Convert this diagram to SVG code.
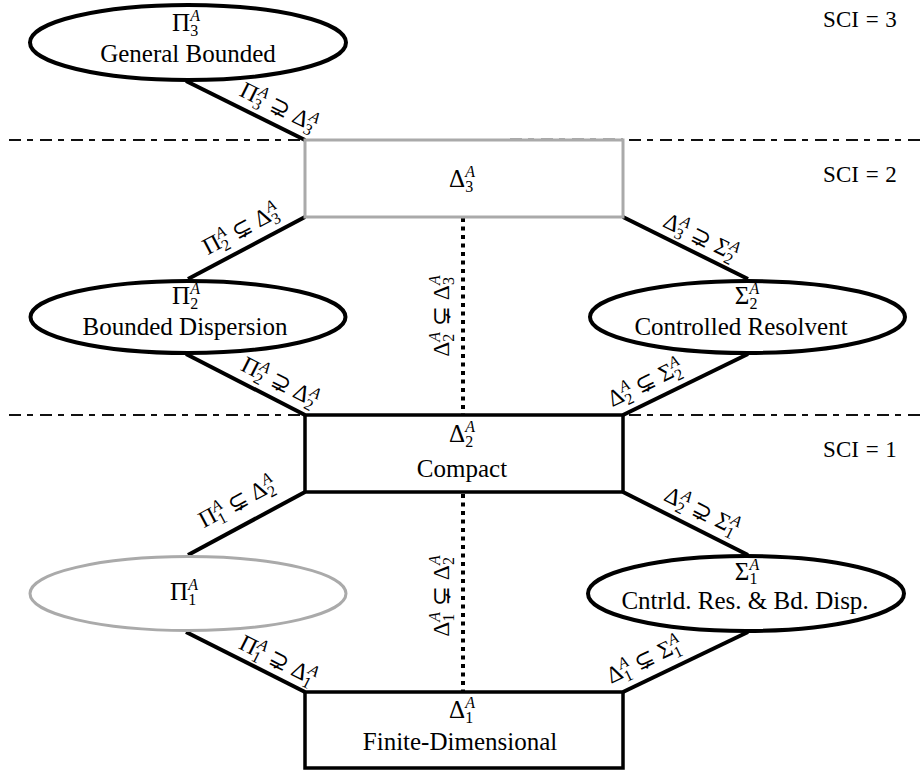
<svg xmlns="http://www.w3.org/2000/svg" width="920" height="774" viewBox="0 0 920 774">
<style>
.ln{stroke:#000;stroke-width:4;fill:none}
.dot{stroke:#000;stroke-width:4;stroke-dasharray:4 4.5;fill:none}
.sep{stroke:#111;stroke-width:2;stroke-dasharray:12 6 6 7;fill:none}
.nb{fill:#fff;stroke:#000;stroke-width:4}
.bx{fill:#fff;stroke:#000;stroke-width:3.5}
.gr{fill:#fff;stroke:#aaa;stroke-width:3}
text{font-family:"Liberation Serif","DejaVu Serif",serif;fill:#000}
.t{font-size:25px;text-anchor:middle}
.m{font-size:25px;text-anchor:middle}
.lb{font-size:23.5px;text-anchor:middle}
.s{font-size:16px}
.i{font-style:italic}
.sci{font-size:23px;text-anchor:middle;word-spacing:1px}
</style>
<rect width="920" height="774" fill="#fff"/>
<g id="separators">
<line class="sep" x1="9" y1="140" x2="920" y2="140"/>
<line class="sep" x1="9" y1="415" x2="920" y2="415"/>
</g>
<g id="connectors">
<line class="ln" x1="186" y1="81" x2="305" y2="140"/>
<line class="ln" x1="305" y1="217" x2="188" y2="279"/>
<line class="ln" x1="623" y1="217" x2="748" y2="279"/>
<line class="ln" x1="186" y1="354" x2="305" y2="415"/>
<line class="ln" x1="748" y1="354" x2="623" y2="415"/>
<line class="dot" x1="463" y1="218" x2="463" y2="415"/>
<line class="ln" x1="305" y1="492" x2="188" y2="555"/>
<line class="ln" x1="623" y1="492" x2="748" y2="555"/>
<line class="ln" x1="186" y1="632" x2="305" y2="692"/>
<line class="ln" x1="748" y1="632" x2="623" y2="692"/>
<line class="dot" x1="463" y1="494" x2="463" y2="692"/>
<text class="lb" transform="translate(279,107) rotate(26.4)" y="7.5">Π<tspan class="s" dy="5">3</tspan><tspan class="s i" dx="-8" dy="-14">A</tspan><tspan dy="9"> ⊋ Δ</tspan><tspan class="s" dy="5">3</tspan><tspan class="s i" dx="-8" dy="-14">A</tspan></text>
<text class="lb" transform="translate(241,229) rotate(-27.9)" y="7.5">Π<tspan class="s" dy="5">2</tspan><tspan class="s i" dx="-8" dy="-14">A</tspan><tspan dy="9"> ⊊ Δ</tspan><tspan class="s" dy="5">3</tspan><tspan class="s i" dx="-8" dy="-14">A</tspan></text>
<text class="lb" transform="translate(701,237) rotate(26.4)" y="7.5">Δ<tspan class="s" dy="5">3</tspan><tspan class="s i" dx="-8" dy="-14">A</tspan><tspan dy="9"> ⊋ Σ</tspan><tspan class="s" dy="5">2</tspan><tspan class="s i" dx="-8" dy="-14">A</tspan></text>
<text class="lb" transform="translate(280,382) rotate(27.1)" y="7.5">Π<tspan class="s" dy="5">2</tspan><tspan class="s i" dx="-8" dy="-14">A</tspan><tspan dy="9"> ⊋ Δ</tspan><tspan class="s" dy="5">2</tspan><tspan class="s i" dx="-8" dy="-14">A</tspan></text>
<text class="lb" transform="translate(645,383) rotate(-26)" y="7.5">Δ<tspan class="s" dy="5">2</tspan><tspan class="s i" dx="-8" dy="-14">A</tspan><tspan dy="9"> ⊊ Σ</tspan><tspan class="s" dy="5">2</tspan><tspan class="s i" dx="-8" dy="-14">A</tspan></text>
<text class="lb" transform="translate(441,316) rotate(-90)" y="7.5">Δ<tspan class="s" dy="5">2</tspan><tspan class="s i" dx="-8" dy="-14">A</tspan><tspan dy="9"> ⊊ Δ</tspan><tspan class="s" dy="5">3</tspan><tspan class="s i" dx="-8" dy="-14">A</tspan></text>
<text class="lb" transform="translate(237,502) rotate(-28.3)" y="7.5">Π<tspan class="s" dy="5">1</tspan><tspan class="s i" dx="-8" dy="-14">A</tspan><tspan dy="9"> ⊊ Δ</tspan><tspan class="s" dy="5">2</tspan><tspan class="s i" dx="-8" dy="-14">A</tspan></text>
<text class="lb" transform="translate(702,511) rotate(26.7)" y="7.5">Δ<tspan class="s" dy="5">2</tspan><tspan class="s i" dx="-8" dy="-14">A</tspan><tspan dy="9"> ⊋ Σ</tspan><tspan class="s" dy="5">1</tspan><tspan class="s i" dx="-8" dy="-14">A</tspan></text>
<text class="lb" transform="translate(278,660) rotate(26.8)" y="7.5">Π<tspan class="s" dy="5">1</tspan><tspan class="s i" dx="-8" dy="-14">A</tspan><tspan dy="9"> ⊋ Δ</tspan><tspan class="s" dy="5">1</tspan><tspan class="s i" dx="-8" dy="-14">A</tspan></text>
<text class="lb" transform="translate(644,660) rotate(-25.6)" y="7.5">Δ<tspan class="s" dy="5">1</tspan><tspan class="s i" dx="-8" dy="-14">A</tspan><tspan dy="9"> ⊊ Σ</tspan><tspan class="s" dy="5">1</tspan><tspan class="s i" dx="-8" dy="-14">A</tspan></text>
<text class="lb" transform="translate(441,596) rotate(-90)" y="7.5">Δ<tspan class="s" dy="5">1</tspan><tspan class="s i" dx="-8" dy="-14">A</tspan><tspan dy="9"> ⊊ Δ</tspan><tspan class="s" dy="5">2</tspan><tspan class="s i" dx="-8" dy="-14">A</tspan></text>
</g>
<g id="pi3">
<ellipse class="nb" cx="188" cy="42.5" rx="158" ry="37.5"/>
<text class="m" x="186" y="31">Π<tspan class="s" dy="5">3</tspan><tspan class="s i" dx="-8" dy="-15">A</tspan></text>
<text class="t" x="188" y="62">General Bounded</text>
</g>
<g id="delta3">
<rect class="gr" x="305" y="140" width="318" height="77"/>
<line x1="510" y1="139" x2="623" y2="139" stroke="#aaa" stroke-width="2" stroke-dasharray="12 6 6 7"/>
<text class="m" x="462" y="187">Δ<tspan class="s" dy="5">3</tspan><tspan class="s i" dx="-8" dy="-15">A</tspan></text>
</g>
<g id="pi2">
<ellipse class="nb" cx="188" cy="317" rx="157.5" ry="36"/>
<text class="m" x="186" y="304">Π<tspan class="s" dy="5">2</tspan><tspan class="s i" dx="-8" dy="-15">A</tspan></text>
<text class="t" x="185" y="335">Bounded Dispersion</text>
</g>
<g id="sigma2">
<ellipse class="nb" cx="747.5" cy="317" rx="157.5" ry="36"/>
<text class="m" x="747" y="304">Σ<tspan class="s" dy="5">2</tspan><tspan class="s i" dx="-8" dy="-15">A</tspan></text>
<text class="t" x="741" y="335">Controlled Resolvent</text>
</g>
<g id="delta2">
<rect class="bx" x="305" y="415" width="318" height="77"/>
<text class="m" x="462" y="442">Δ<tspan class="s" dy="5">2</tspan><tspan class="s i" dx="-8" dy="-15">A</tspan></text>
<text class="t" x="462" y="477">Compact</text>
</g>
<g id="pi1">
<ellipse cx="188" cy="593.5" rx="158" ry="37" fill="#fff" stroke="#aaa" stroke-width="3"/>
<text class="m" x="184" y="600">Π<tspan class="s" dy="5">1</tspan><tspan class="s i" dx="-8" dy="-15">A</tspan></text>
</g>
<g id="sigma1">
<ellipse class="nb" cx="746" cy="593.5" rx="158" ry="37.5"/>
<text class="m" x="747" y="580">Σ<tspan class="s" dy="4">1</tspan><tspan class="s i" dx="-8" dy="-14">A</tspan></text>
<text class="t" x="745" y="609">Cntrld. Res. &amp; Bd. Disp.</text>
</g>
<g id="delta1">
<rect class="bx" x="305" y="692" width="318" height="76"/>
<text class="m" x="462" y="718">Δ<tspan class="s" dy="5">1</tspan><tspan class="s i" dx="-8" dy="-15">A</tspan></text>
<text class="t" x="460" y="750">Finite-Dimensional</text>
</g>
<g id="sci">
<text class="sci" x="860" y="27">SCI = 3</text>
<text class="sci" x="860" y="182">SCI = 2</text>
<text class="sci" x="860" y="457">SCI = 1</text>
</g>
</svg>
